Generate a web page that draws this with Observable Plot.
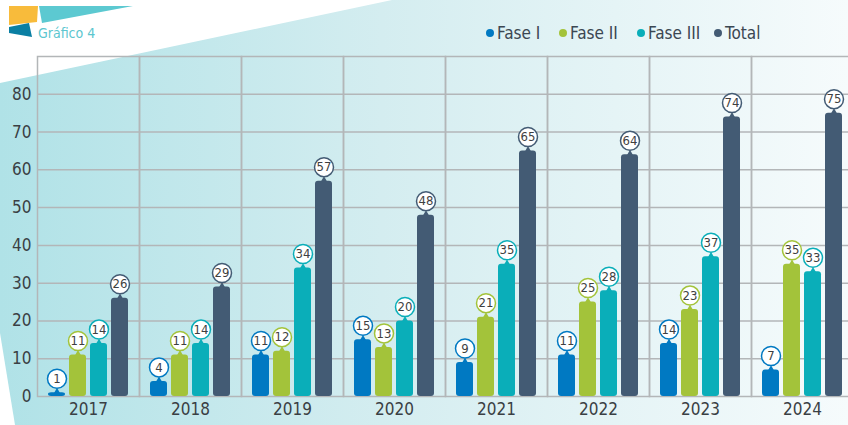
<!DOCTYPE html>
<html>
<head>
<meta charset="utf-8">
<script src="https://cdn.jsdelivr.net/npm/d3@7"></script>
<script src="https://cdn.jsdelivr.net/npm/@observablehq/plot@0.6"></script>
<style>
  html, body { margin: 0; padding: 0; background: #ffffff; }
  #wrap { position: relative; width: 848px; height: 425px; overflow: hidden;
    font-family: "Liberation Sans Narrow", "DejaVu Sans Condensed", "Roboto", sans-serif; }
  #bg { position: absolute; left: 0; top: 0; }
  #header { position: relative; height: 50px; width: 848px; }
  #title { position: absolute; left: 38px; top: 25px; font-size: 14px; color: #5cc6cf; }
  .leg { position: absolute; top: 23px; font-size: 17px; color: #3b4752; display: flex; align-items: center; }
  .leg span.dot { display: inline-block; width: 8px; height: 8px; border-radius: 50%; margin-right: 3px; }
  #chart { position: relative; width: 860px; height: 375px; }
  #chart svg { max-width: none !important; display: block; }
</style>
</head>
<body>
<div id="wrap">
  <svg id="bg" width="848" height="425">
    <defs>
      <linearGradient id="g" x1="0" x2="1" y1="0" y2="0">
        <stop offset="0" stop-color="#b0e2e7"/>
        <stop offset="0.45" stop-color="#d4edf0"/>
        <stop offset="1" stop-color="#f6fbfc"/>
      </linearGradient>
    </defs>
    <rect x="0" y="0" width="848" height="425" fill="url(#g)"/>
    <polygon points="0,0 392,0 0,83" fill="#ffffff"/>
    <polygon points="0,333 0,425 15,425" fill="#ffffff"/>
    <polygon points="9,6 38,6 37,22 9,25" fill="#f8bb3b"/>
    <polygon points="39,6 133,6 42,23" fill="#5cc9d1"/>
    <polygon points="9,27 29,23 32,37 9,33" fill="#0a7fa3"/>
  </svg>
  <div id="header">
    <div id="title">Gráfico 4</div>
  </div>
  <div id="chart"></div>
</div>
<script>
const years = ["2017", "2018", "2019", "2020", "2021", "2022", "2023", "2024"];
const series = ["Fase I", "Fase II", "Fase III", "Total"];
const faseI = [1, 4, 11, 15, 9, 11, 14, 7];
const faseII = [11, 11, 12, 13, 21, 25, 23, 35];
const faseIII = [14, 14, 34, 20, 35, 28, 37, 33];
const total = [26, 29, 57, 48, 65, 64, 74, 75];
const yTicks = [0, 10, 20, 30, 40, 50, 60, 70, 80];
const colors = ["#0079c2", "#a3c33a", "#0aaeb9", "#435b74"];

const seriesValues = [faseI, faseII, faseIII, total];
const data = years.flatMap((yr, i) => series.map((s, j) => ({year: yr, series: s, value: seriesValues[j][i]})));

// legend
const header = document.getElementById("header");
const legendLeft = [486, 559, 637, 714];
series.forEach((s, j) => {
  const d = document.createElement("div");
  d.className = "leg";
  d.style.left = legendLeft[j] + "px";
  d.innerHTML = `<span class="dot" style="background:${colors[j]}"></span>${s}`;
  header.appendChild(d);
});

const font = '"Liberation Sans Narrow", "DejaVu Sans Condensed", "Roboto", sans-serif';
const chart = Plot.plot({
  width: 860,
  height: 375,
  marginTop: 6,
  marginBottom: 29,
  marginLeft: 34,
  marginRight: 5,
  style: {background: "transparent", fontFamily: font, fontSize: "17px", color: "#3a3f44", maxWidth: "none"},
  fx: {domain: years, padding: 0, label: null, tickSize: 0, tickPadding: 6, axis: "bottom"},
  x: {domain: series, axis: null, paddingInner: 0.19, paddingOuter: 0.48},
  y: {domain: [0, 90], ticks: yTicks, tickSize: 0, tickPadding: 6, label: null},
  color: {domain: series, range: colors},
  marks: [
    Plot.ruleY(yTicks.filter(d => d > 0), {stroke: "#b3b6b8", strokeWidth: 1.5}),
    Plot.frame({stroke: "#b3b6b8", strokeWidth: 1.5}),
    Plot.barY(data, {fx: "year", x: "series", y: "value", fill: "series", rx: 3}),
    Plot.dot(data, {fx: "year", x: "series", y: "value", fill: "series", symbol: "triangle", r: 2.5, dy: -1}),
    Plot.dot(data, {fx: "year", x: "series", y: "value", r: 9.5, fill: "white", stroke: "series", strokeWidth: 1.5, dy: -14}),
    Plot.text(data, {fx: "year", x: "series", y: "value", text: d => String(d.value), dy: -14, fill: "#3f3f3f", fontSize: 13})
  ]
});
document.getElementById("chart").appendChild(chart);
</script>
</body>
</html>
